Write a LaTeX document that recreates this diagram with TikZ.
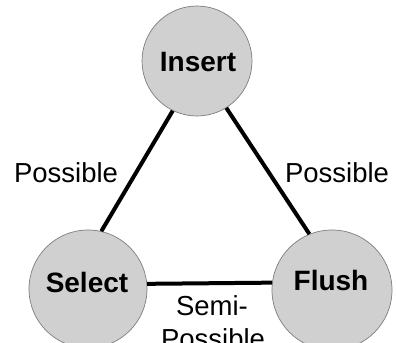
\documentclass[tikz,border=0pt]{standalone}
\usepackage{fontspec}
\setmainfont{Liberation Sans}
\definecolor{ballfill}{RGB}{208,208,208}
\definecolor{ballline}{RGB}{125,125,125}
\tikzset{
  ball/.style={circle, fill=ballfill, draw=ballline, line width=0.7pt, inner sep=0pt},
  opname/.style={font=\fontsize{28}{33}\selectfont\bfseries, inner sep=0pt},
  edgelabel/.style={font=\fontsize{27.5}{33}\selectfont, inner sep=0pt, align=center},
  link/.style={line width=4pt}
}
\begin{document}
\begin{tikzpicture}[x=1pt,y=-1pt]
\useasboundingbox (0,0) rectangle (397,343);
\node[ball, minimum size=110pt] (ins) at (197,61) {};
\node[ball, minimum size=118pt] (sel) at (88,289) {};
\node[ball, minimum size=120pt] (flu) at (332,290) {};
\node[opname] (inst) at (198,62) {Insert};
\node[opname] (selt) at (87,282) {Select};
\node[opname] (flut) at (331,280) {Flush};
\draw[link] (ins.244.8) -- (sel.77.6);
\draw[link] (ins.302.4) -- (flu.112.6);
\draw[link] (sel.5.8) -- (flu.173.3);
\node[edgelabel, anchor=base] (lp) at (66,182) {Possible};
\node[edgelabel, anchor=base] (rp) at (337,182) {Possible};
\node[edgelabel, anchor=base] (sp) at (212,315) {Semi-};
\node[edgelabel, anchor=base] (sp2) at (213,348) {Possible};
\end{tikzpicture}
\end{document}
